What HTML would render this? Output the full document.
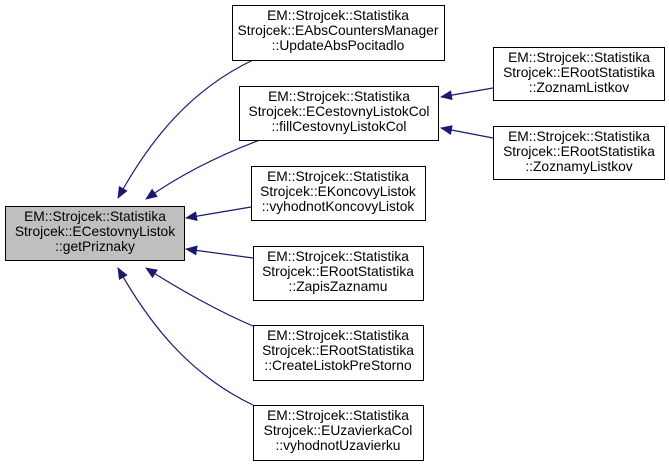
<!DOCTYPE html>
<html><head><style>body{margin:0;background:#fff}</style></head><body>
<svg width="669" height="467" viewBox="0 0 669 467" xmlns="http://www.w3.org/2000/svg" font-family="Liberation Sans, sans-serif" font-size="13.8">
<defs><marker id="a" markerWidth="12" markerHeight="10" refX="11" refY="5" orient="auto" markerUnits="userSpaceOnUse"><path d="M0,0 L12,5 L0,10 Z" fill="#191970"/></marker></defs>
<g fill="none" stroke="#191970" stroke-width="1.2" marker-end="url(#a)">
<path d="M253,60 C190,90 150,140 118,198"/>
<path d="M260,140 C220,155 180,175 146,199"/>
<path d="M251,207 L186,218"/>
<path d="M253,258 L186,249"/>
<path d="M253,326 C220,312 180,290 146,268"/>
<path d="M253,405 C190,375 150,325 118,268"/>
<path d="M493,88 L441,97"/>
<path d="M493,138 L441,128"/>
</g>
<g stroke="#000" stroke-width="1" fill="#fff">
<rect x="5.5" y="206.5" width="179" height="54" fill="#bfbfbf"/>
<rect x="232.5" y="5.5" width="212" height="55"/>
<rect x="239.5" y="86.5" width="199" height="54"/>
<rect x="251.5" y="166.5" width="174" height="54"/>
<rect x="253.5" y="246.5" width="170" height="54"/>
<rect x="253.5" y="325.5" width="170" height="55"/>
<rect x="253.5" y="405.5" width="170" height="55"/>
<rect x="493.5" y="47.5" width="171" height="53"/>
<rect x="493.5" y="126.5" width="171" height="53"/>
</g>
<g text-anchor="middle" fill="#000">
<text x="95" y="221">EM::Strojcek::Statistika</text><text x="95" y="236">Strojcek::ECestovnyListok</text><text x="95" y="251">::getPriznaky</text>
<text x="338" y="20">EM::Strojcek::Statistika</text><text x="338" y="35">Strojcek::EAbsCountersManager</text><text x="338" y="50">::UpdateAbsPocitadlo</text>
<text x="339" y="101">EM::Strojcek::Statistika</text><text x="339" y="116">Strojcek::ECestovnyListokCol</text><text x="339" y="131">::fillCestovnyListokCol</text>
<text x="338" y="181">EM::Strojcek::Statistika</text><text x="338" y="196">Strojcek::EKoncovyListok</text><text x="338" y="211">::vyhodnotKoncovyListok</text>
<text x="338" y="261">EM::Strojcek::Statistika</text><text x="338" y="276">Strojcek::ERootStatistika</text><text x="338" y="291">::ZapisZaznamu</text>
<text x="338" y="340">EM::Strojcek::Statistika</text><text x="338" y="355">Strojcek::ERootStatistika</text><text x="338" y="370">::CreateListokPreStorno</text>
<text x="338" y="420">EM::Strojcek::Statistika</text><text x="338" y="435">Strojcek::EUzavierkaCol</text><text x="338" y="450">::vyhodnotUzavierku</text>
<text x="579" y="62">EM::Strojcek::Statistika</text><text x="579" y="77">Strojcek::ERootStatistika</text><text x="579" y="92">::ZoznamListkov</text>
<text x="579" y="141">EM::Strojcek::Statistika</text><text x="579" y="156">Strojcek::ERootStatistika</text><text x="579" y="171">::ZoznamyListkov</text>
</g>
</svg>
</body></html>
